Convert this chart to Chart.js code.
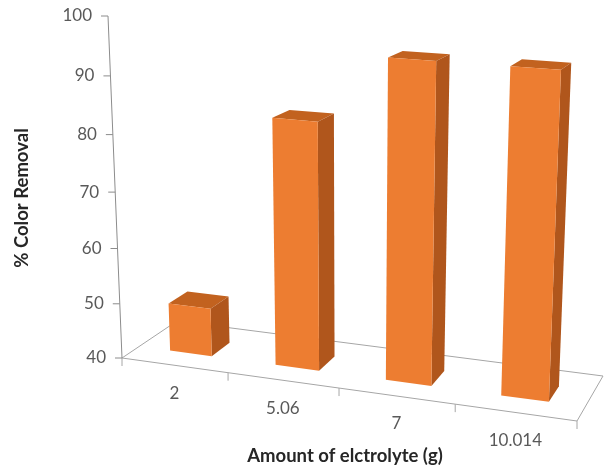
<!DOCTYPE html>
<html>
<head>
<meta charset="utf-8">
<script src="https://cdn.jsdelivr.net/npm/chart.js@4.4.0/dist/chart.umd.min.js"></script>
<style>
  html, body { margin: 0; padding: 0; background: #ffffff; }
  canvas { display: block; }
</style>
</head>
<body>
<canvas id="chart" width="606" height="468"></canvas>
<script>
// data
const categories = ['2', '5.06', '7', '10.014'];
const colorRemoval = [48.8, 83.8, 95.3, 95.3];
const yTicks = [40, 50, 60, 70, 80, 90, 100];
const xTitle = 'Amount of elctrolyte (g)';
const yTitle = '% Color Removal';

// layout of the 3D view (screen corners of the floor, top of value axis)
const FLOOR = [[122, 358], [577, 421], [603, 376], [177, 321]]; // front-left, front-right, back-right, back-left
const AXIS_TOP = [108, 16];
const VANISH_Y = 5900;
const BAR_FRONT = 0.3, BAR_BACK = 0.65; // bar depth inside the floor (0 = front, 1 = back)

const FRONT_COLOR = '#ed7d31';
const SIDE_COLOR = '#b0561c';
const TOP_COLOR = '#c2621f';
const FONT = 'Lato, "Open Sans", sans-serif';

function makeProjection() {
    const [[x0, y0], [x1, y1], [x2, y2], [x3, y3]] = FLOOR;
    const dx1 = x1 - x2, dx2 = x3 - x2, dx3 = x0 - x1 + x2 - x3;
    const dy1 = y1 - y2, dy2 = y3 - y2, dy3 = y0 - y1 + y2 - y3;
    const den = dx1 * dy2 - dx2 * dy1;
    const g = (dx3 * dy2 - dx2 * dy3) / den;
    const h = (dx1 * dy3 - dx3 * dy1) / den;
    const a = x1 - x0 + g * x1, b = x3 - x0 + h * x3, c = x0;
    const d = y1 - y0 + g * y1, e = y3 - y0 + h * y3, f = y0;
    const K = (AXIS_TOP[1] - f) / (VANISH_Y - AXIS_TOP[1]);
    const vx = (AXIS_TOP[0] * (1 + K) - c) / K;
    // u: along categories, t: along value axis, v: depth
    return (u, t, v) => {
        const w = g * u + h * v + 1 + K * t;
        return [(a * u + b * v + c + K * vx * t) / w, (d * u + e * v + f + K * VANISH_Y * t) / w];
    };
}

function poly(ctx, pts, fill) {
    ctx.beginPath();
    ctx.moveTo(pts[0][0], pts[0][1]);
    for (let i = 1; i < pts.length; i++) ctx.lineTo(pts[i][0], pts[i][1]);
    ctx.closePath();
    ctx.fillStyle = fill;
    ctx.fill();
}

function line(ctx, p, q) {
    ctx.beginPath();
    ctx.moveTo(p[0], p[1]);
    ctx.lineTo(q[0], q[1]);
    ctx.stroke();
}

const perspectivePlugin = {
    id: 'perspective3d',
    afterDraw(chart) {
        const ctx = chart.ctx;
        const xs = chart.scales.x, ys = chart.scales.y;
        const P = makeProjection();
        const base = ys.getPixelForValue(yTicks[0]);
        const top = ys.getPixelForValue(yTicks[yTicks.length - 1]);
        const uOf = px => (px - xs.left) / xs.width;
        const tOf = py => Math.max(0, (base - py) / (base - top));

        ctx.save();
        ctx.lineWidth = 1;

        // floor outline
        ctx.strokeStyle = '#a6a6a6';
        const fl = P(0, 0, 0), fr = P(1, 0, 0), br = P(1, 0, 1), bl = P(0, 0, 1);
        line(ctx, fl, fr); line(ctx, fr, br); line(ctx, br, bl); line(ctx, bl, fl);

        // category tick marks and labels
        const n = categories.length;
        for (let i = 0; i <= n; i++) {
            const p = P(i / n, 0, 0);
            line(ctx, p, [p[0], p[1] + 8]);
        }
        ctx.fillStyle = '#595959';
        ctx.font = '17px ' + FONT;
        ctx.textAlign = 'center';
        ctx.textBaseline = 'middle';
        categories.forEach((lab, i) => {
            const p = P(uOf(xs.getPixelForValue(i)), 0, 0);
            ctx.fillText(lab, p[0], p[1] + 28);
        });

        // value axis
        ctx.strokeStyle = '#8c8c8c';
        line(ctx, P(0, 0, 0), P(0, 1, 0));
        ctx.textAlign = 'right';
        yTicks.forEach(v => {
            const p = P(0, tOf(ys.getPixelForValue(v)), 0);
            line(ctx, [p[0] - 7, p[1]], p);
            ctx.fillText(String(v), p[0] - 16, p[1]);
        });

        // bars
        const meta = chart.getDatasetMeta(0);
        meta.data.forEach(bar => {
            const ul = uOf(bar.x - bar.width / 2), ur = uOf(bar.x + bar.width / 2);
            const t0 = tOf(bar.base), t1 = tOf(bar.y);
            const z0 = BAR_FRONT, z1 = BAR_BACK;
            poly(ctx, [P(ul, t1, z0), P(ur, t1, z0), P(ur, t1, z1), P(ul, t1, z1)], TOP_COLOR);
            poly(ctx, [P(ur, t0, z0), P(ur, t0, z1), P(ur, t1, z1), P(ur, t1, z0)], SIDE_COLOR);
            poly(ctx, [P(ul, t0, z0), P(ur, t0, z0), P(ur, t1, z0), P(ul, t1, z0)], FRONT_COLOR);
        });

        // axis titles
        ctx.fillStyle = '#262626';
        ctx.font = 'bold 18.5px ' + FONT;
        ctx.textAlign = 'center';
        ctx.fillText(xTitle, 345, 456);
        ctx.translate(22, 198);
        ctx.rotate(-Math.PI / 2);
        ctx.fillText(yTitle, 0, 0);
        ctx.restore();
    }
};

const ctx = document.getElementById('chart').getContext('2d');
new Chart(ctx, {
    type: 'bar',
    data: {
        labels: categories,
        datasets: [{
            label: yTitle,
            data: colorRemoval,
            backgroundColor: 'rgba(0,0,0,0)',
            borderWidth: 0,
            barPercentage: 0.4,
            categoryPercentage: 1.0,
        }],
    },
    options: {
        responsive: false,
        animation: false,
        layout: { padding: 0 },
        scales: {
            x: { display: false, offset: true },
            y: { display: false, min: yTicks[0], max: yTicks[yTicks.length - 1] },
        },
        plugins: {
            legend: { display: false },
            tooltip: { enabled: false },
        },
    },
    plugins: [perspectivePlugin],
});
</script>
</body>
</html>
